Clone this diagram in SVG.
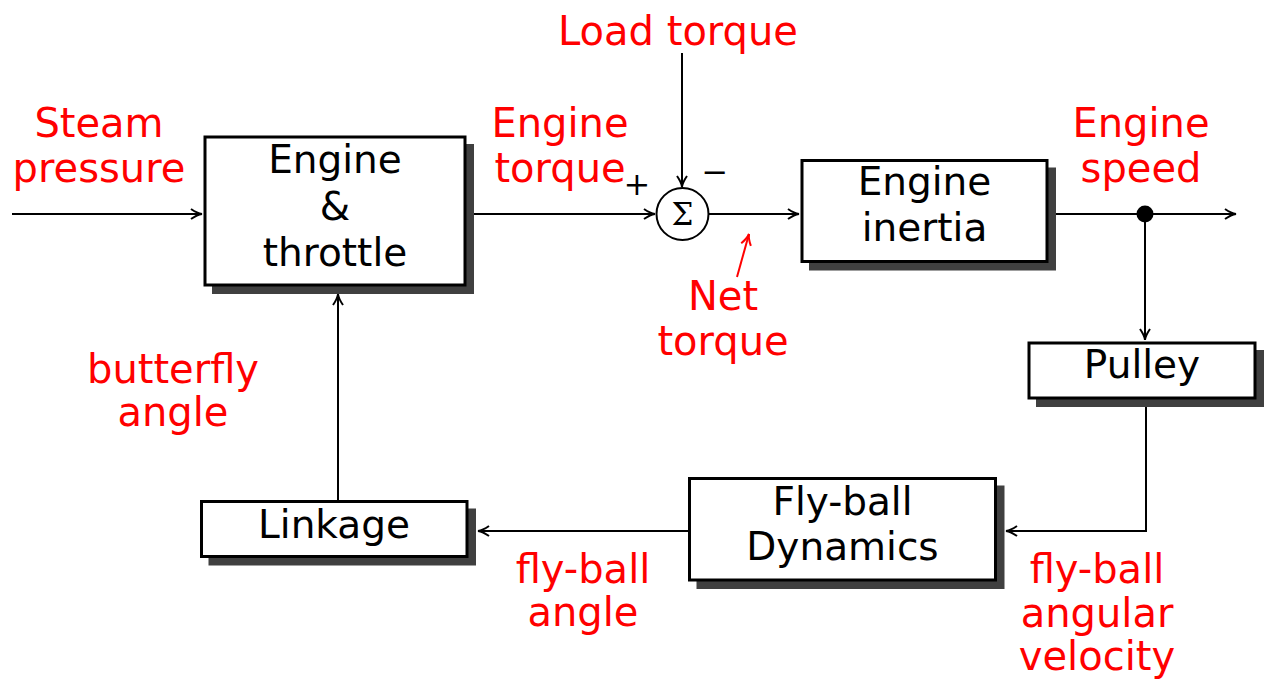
<svg xmlns="http://www.w3.org/2000/svg" width="1266" height="681" viewBox="0 0 1266 681">
<defs>
<style>
.box{fill:#fff;stroke:#000;stroke-width:3}
.sh{fill:#404040}
.bt{font-family:"DejaVu Sans",Verdana,sans-serif;font-size:39px;fill:#000;text-anchor:middle}
.lb{font-family:"DejaVu Sans",Verdana,sans-serif;font-size:40px;fill:#ff0000;text-anchor:middle}
.ln{fill:none;stroke:#000;stroke-width:2}
.sg{font-family:"DejaVu Serif","Liberation Serif",serif;fill:#000;text-anchor:middle}
</style>
<marker id="ah" markerUnits="userSpaceOnUse" markerWidth="16" markerHeight="14" viewBox="-13 -7 16 14" refX="0" refY="0" orient="auto" overflow="visible">
<path d="M-11,-5 C-6,-1.5 -2.5,-0.3 0,0 C-2.5,0.3 -6,1.5 -11,5" fill="none" stroke="#000" stroke-width="2"/>
</marker>
<marker id="ahr" markerUnits="userSpaceOnUse" markerWidth="16" markerHeight="14" viewBox="-13 -7 16 14" refX="0" refY="0" orient="auto" overflow="visible">
<path d="M-11,-5 C-6,-1.5 -2.5,-0.3 0,0 C-2.5,0.3 -6,1.5 -11,5" fill="none" stroke="#ff0000" stroke-width="2"/>
</marker>
</defs>
<rect width="1266" height="681" fill="#fff"/>

<g id="connectors">
<line class="ln" x1="12" y1="214" x2="202" y2="214" marker-end="url(#ah)"/>
<line class="ln" x1="466" y1="214" x2="655" y2="214" marker-end="url(#ah)"/>
<line class="ln" x1="682" y1="53" x2="682" y2="187" marker-end="url(#ah)"/>
<line class="ln" x1="709" y1="214" x2="799" y2="214" marker-end="url(#ah)"/>
<line class="ln" x1="1048" y1="214" x2="1236" y2="214" marker-end="url(#ah)"/>
<line class="ln" x1="1145" y1="214" x2="1145" y2="340" marker-end="url(#ah)"/>
<polyline class="ln" points="1146,400 1146,531 1006,531" marker-end="url(#ah)"/>
<line class="ln" x1="688" y1="531" x2="478" y2="531" marker-end="url(#ah)"/>
<line class="ln" x1="338" y1="500" x2="338" y2="294" marker-end="url(#ah)"/>
<line x1="737" y1="277" x2="749" y2="234" stroke="#ff0000" stroke-width="2" marker-end="url(#ahr)"/>
<circle cx="1145" cy="214" r="8.5" fill="#000"/>
</g>

<g id="sum">
<circle cx="682.5" cy="214" r="26" fill="#fff" stroke="#000" stroke-width="2"/>
<text class="sg" x="682.5" y="225" font-size="31">Σ</text>
<text class="sg" x="637" y="195" font-size="32" font-weight="300">+</text>
<text class="sg" x="715" y="183" font-size="32" font-weight="300">−</text>
</g>

<g id="engine-throttle">
<rect class="sh" x="212" y="144" width="262" height="150"/>
<rect class="box" x="205" y="137" width="260" height="148"/>
<text class="bt" x="335" y="173">Engine</text>
<text class="bt" x="335" y="220">&amp;</text>
<text class="bt" x="335" y="266">throttle</text>
</g>

<g id="engine-inertia">
<rect class="sh" x="809" y="167.5" width="247" height="103"/>
<rect class="box" x="802" y="160.5" width="245" height="101"/>
<text class="bt" x="924.5" y="195">Engine</text>
<text class="bt" x="924.5" y="241">inertia</text>
</g>

<g id="pulley">
<rect class="sh" x="1036" y="350" width="228" height="57"/>
<rect class="box" x="1029" y="343" width="226" height="55"/>
<text class="bt" x="1142" y="378">Pulley</text>
</g>

<g id="linkage">
<rect class="sh" x="208.5" y="508.5" width="267.5" height="57"/>
<rect class="box" x="201.5" y="501.5" width="265.5" height="55"/>
<text class="bt" x="334" y="538">Linkage</text>
</g>

<g id="flyball-dynamics">
<rect class="sh" x="696.5" y="485.5" width="308" height="103.5"/>
<rect class="box" x="689.5" y="478.5" width="306" height="101.5"/>
<text class="bt" x="842.5" y="515">Fly-ball</text>
<text class="bt" x="842.5" y="560">Dynamics</text>
</g>

<g id="labels">
<text class="lb" x="99" y="137">Steam</text>
<text class="lb" x="99" y="182">pressure</text>
<text class="lb" x="678" y="45">Load torque</text>
<text class="lb" x="560" y="137">Engine</text>
<text class="lb" x="560" y="182">torque</text>
<text class="lb" x="723" y="310">Net</text>
<text class="lb" x="723" y="355">torque</text>
<text class="lb" x="1141" y="137">Engine</text>
<text class="lb" x="1141" y="182">speed</text>
<text class="lb" x="173" y="383">butterfly</text>
<text class="lb" x="173" y="426">angle</text>
<text class="lb" x="583" y="583">fly-ball</text>
<text class="lb" x="583" y="626">angle</text>
<text class="lb" x="1097" y="583">fly-ball</text>
<text class="lb" x="1097" y="627">angular</text>
<text class="lb" x="1097" y="670">velocity</text>
</g>
</svg>
